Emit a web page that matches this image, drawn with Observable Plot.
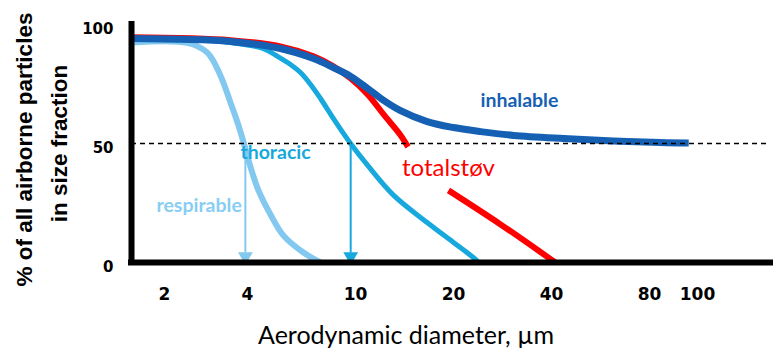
<!DOCTYPE html>
<html><head><meta charset="utf-8">
<script src="https://cdn.jsdelivr.net/npm/d3@7"></script>
<script src="https://cdn.jsdelivr.net/npm/@observablehq/plot@0.6"></script>
<style>body{margin:0;background:#fff} svg{display:block}</style>
</head><body><div id="chart"></div>
<script>
// Tick labels
const xTicks = [2, 4, 10, 20, 40, 80, 100];
const yTicks = [0, 50, 100];

// Curves: aerodynamic diameter (µm) and % of airborne particles
const inhalableD = [1.52, 2.28, 3.47, 5.29, 7.0, 8.29, 9.6, 10.9, 12.2, 13.7, 16.6, 20, 24.2, 30.6, 43.6, 62, 84.2, 96];
const inhalableP = [94.1, 93.8, 92.9, 89.9, 85.7, 81.9, 78.2, 73.1, 68.1, 63.9, 59.2, 56.7, 55.0, 53.4, 52.1, 51.1, 50.4, 50.2];

const totalD = [1.52, 3.47, 5.29, 7.0, 8.29, 9.6, 10.9, 12.2, 13.7, 14.5, NaN, 19.3, 27.9, 41.1];
const totalP = [94.6, 93.4, 90.8, 86.6, 82.4, 77.3, 70.6, 62.2, 53.8, 48.6, NaN, 30.3, 16.0, 0];

const thoracicD = [1.52, 2.7, 3.47, 4.58, 5.16, 5.76, 6.27, 6.83, 7.43, 8.29, 9.59, 10.9, 13.1, 16.6, 20, 23.0, 23.9];
const thoracicP = [93.7, 93.5, 92.4, 89.9, 86.6, 83.2, 79.8, 74.8, 68.9, 60.5, 50, 40.8, 28.2, 16.8, 8.4, 2.1, 0];

const respirableD = [1.52, 2.42, 2.86, 3.19, 3.47, 3.68, 3.9, 4.1, 4.39, 4.86, 5.43, 6.43, 7.43];
const respirableP = [92.4, 92.3, 88.2, 78.6, 67.2, 58.8, 49.2, 40.3, 30.3, 20.2, 11.3, 4.2, 0];

// 50% cut points (arrows)
const cutD = [3.93, 9.6];
const halfLevel = [50];

// Labels
const labelText = ["inhalable", "thoracic", "respirable", "totalstøv"];
const labelX = [24.2, 3.77, 1.87, 13.9];
const labelY = [68.1, 46.2, 23.9, 39.5];

const xTitle = "Aerodynamic diameter, µm";
const yTitle1 = "% of all airborne particles";
const yTitle2 = "in size fraction";

const C = {inh: "#1660b4", tot: "#ff0000", tho: "#17a9dd", res: "#82c8ef"};

const pts = (D, P) => D.map((x, i) => ({x, y: P[i]}));
const xDomain = [1.52, 2, 4, 10, 20, 40, 80, 100, 140];
const xRange = [131, 164, 247, 355, 453, 551, 649, 697, 770];
const lab = i => [{x: labelX[i], y: labelY[i], t: labelText[i]}];
const txt = (i, o) => Plot.text(lab(i), {x: "x", y: "y", text: "t", textAnchor: "start", lineAnchor: "middle", ...o});
const curve = "catmull-rom";

const chart = Plot.plot({
  width: 773, height: 351,
  marginLeft: 131, marginRight: 3, marginTop: 24, marginBottom: 89,
  x: {type: "log", domain: xDomain, range: xRange, axis: null},
  y: {domain: [0, 100], axis: null},
  style: {background: "#fff", fontFamily: "Lato"},
  marks: [
    Plot.line(pts(respirableD, respirableP), {x: "x", y: "y", stroke: C.res, strokeWidth: 6, curve, strokeLinecap: "butt"}),
    Plot.line(pts(thoracicD, thoracicP), {x: "x", y: "y", stroke: C.tho, strokeWidth: 5, curve, strokeLinecap: "butt"}),
    Plot.line(pts(totalD, totalP), {x: "x", y: "y", stroke: C.tot, strokeWidth: 6, curve, strokeLinecap: "butt"}),
    Plot.line(pts(inhalableD, inhalableP), {x: "x", y: "y", stroke: C.inh, strokeWidth: 7, curve, strokeLinecap: "butt"}),
    Plot.ruleY(halfLevel, {stroke: "#000", strokeWidth: 1.5, strokeDasharray: "5,4"}),
    Plot.ruleX(cutD, {x: d => d, y1: 50, y2: 4, stroke: (d, i) => i === 0 ? C.res : C.tho, strokeWidth: 2}),
    Plot.dot(cutD, {x: d => d, y: 0, dy: -6, symbol: "triangle", rotate: 180, r: 5.5, fill: (d, i) => i === 0 ? C.res : C.tho, stroke: "none"}),
    Plot.ruleY([0], {stroke: "#000", strokeWidth: 6, strokeLinecap: "square"}),
    Plot.ruleX([xDomain[0]], {stroke: "#000", strokeWidth: 6, strokeLinecap: "square"}),
    Plot.text(xTicks, {x: d => d, text: d => String(d), frameAnchor: "bottom", dy: 32, lineAnchor: "middle", fontSize: 17, fontWeight: "bold", fontFamily: "DejaVu Sans", fill: "#000"}),
    Plot.text(yTicks, {y: d => d, text: d => String(d), frameAnchor: "left", dx: -18, dy: 5, textAnchor: "end", lineAnchor: "middle", fontSize: 15, fontWeight: "bold", fontFamily: "DejaVu Sans", fill: "#000"}),
    txt(0, {fill: C.inh, fontWeight: "bold", fontSize: 19.5}),
    txt(1, {fill: C.tho, fontWeight: "bold", fontSize: 19.5}),
    txt(2, {fill: "#88cdf3", fontWeight: "bold", fontSize: 19.5}),
    txt(3, {fill: C.tot, fontSize: 24}),
    Plot.text([xTitle], {text: d => d, frameAnchor: "bottom", dx: -45, dy: 73, lineAnchor: "middle", textAnchor: "middle", fontSize: 25, fill: "#000"}),
    Plot.text([yTitle1], {text: d => d, frameAnchor: "left", rotate: -90, dx: -107, dy: 6, lineAnchor: "middle", textAnchor: "middle", fontSize: 22.5, fontWeight: "bold", fontFamily: "Liberation Sans", fill: "#000"}),
    Plot.text([yTitle2], {text: d => d, frameAnchor: "left", rotate: -90, dx: -72, dy: 0, lineAnchor: "middle", textAnchor: "middle", fontSize: 22.5, fontWeight: "bold", fontFamily: "Liberation Sans", fill: "#000"})
  ]
});
document.getElementById("chart").append(chart);
</script></body></html>
